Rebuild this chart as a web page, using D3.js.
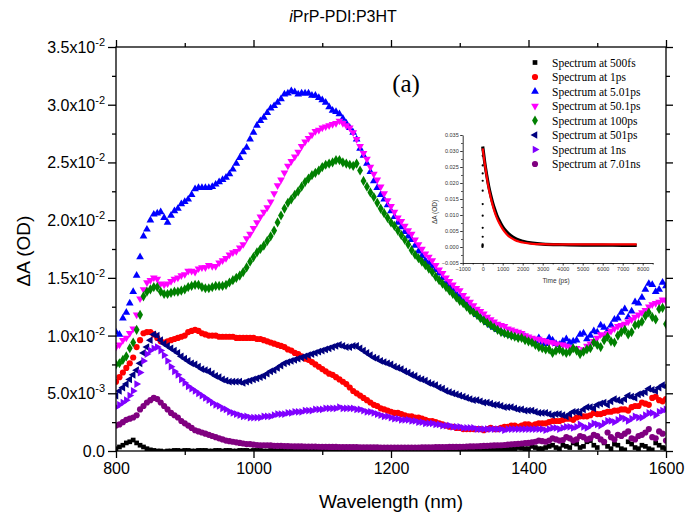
<!DOCTYPE html>
<html>
<head>
<meta charset="utf-8">
<script src="https://cdn.jsdelivr.net/npm/d3@7"></script>
<style>
  body { margin: 0; background: #fff; }
  svg { display: block; font-family: Arial, "Liberation Sans", sans-serif; }
</style>
</head>
<body>
<svg id="chart" width="687" height="524"></svg>
<script>
// wavelength grid (nm); spectra are in units of 1e-3 OD
// values on the 10 nm grid (800..1600) and on the half steps (805..1595)
const wavelengths = d3.range(800, 1601, 10)
const wavelengthsMid = d3.range(805, 1600, 10)

const spec500fs = [0.2, 0.5, 0.8, 0.7, 0.35, 0.1, 0.0, -0.05, 0.0, 0.05,
  0.05, 0.0, 0.05, 0.05, 0.0, 0.05, 0.05, 0.0, 0.05, 0.05,
  0.05, 0.05, 0.0, 0.05, 0.05, 0.0, 0.05, 0.05, 0.05, 0.0,
  0.05, 0.05, 0.05, 0.0, 0.05, 0.05, 0.05, 0.05, 0.0, 0.05,
  0.05, 0.05, 0.05, 0.1, 0.05, 0.05, 0.1, 0.05, 0.1, 0.1,
  0.1, 0.1, 0.15, 0.1, 0.15, 0.2, 0.15, 0.2, 0.2, 0.25,
  0.2, 0.3, 0.2, 0.4, 0.3, 0.5, 0.3, 0.6, 0.4, 0.9,
  0.3, 0.7, 0.2, 0.5, 0.1, 0.6, 0.2, 0.4, 0.1, 0.5,
  0.2]
const spec500fsMid = [0.35, 0.7, 0.95, 0.5, 0.2, 0.05, 0.0, 0.0, 0.05, 0.0,
  0.05, 0.0, 0.05, 0.0, 0.05, 0.0, 0.05, 0.0, 0.05, 0.0,
  0.05, 0.0, 0.05, 0.0, 0.05, 0.0, 0.05, 0.0, 0.05, 0.0,
  0.05, 0.0, 0.05, 0.0, 0.05, 0.0, 0.05, 0.0, 0.05, 0.0,
  0.05, 0.1, 0.05, 0.05, 0.1, 0.1, 0.05, 0.1, 0.1, 0.1,
  0.1, 0.15, 0.1, 0.2, 0.15, 0.2, 0.2, 0.15, 0.3, 0.2,
  0.4, 0.2, 0.3, 0.5, 0.2, 0.4, 0.7, 0.3, 0.8, 0.5,
  1.0, 0.4, 0.6, 0.2, 0.8, 0.3, 0.5, 0.2, 0.7, 0.3]

const spec1ps = [6.0, 6.8, 7.6, 9.0, 10.2, 10.3, 9.8, 9.4, 9.6, 9.8,
  10.0, 10.4, 10.4, 10.1, 10.0, 9.9, 9.9, 9.9, 9.8, 9.8,
  9.8, 9.7, 9.5, 9.3, 9.1, 8.8, 8.5, 8.2, 7.9, 7.5,
  7.1, 6.7, 6.4, 6.0, 5.5, 5.0, 4.6, 4.2, 3.9, 3.6,
  3.4, 3.3, 3.1, 3.0, 2.9, 2.7, 2.6, 2.4, 2.2, 2.1,
  2.0, 1.9, 1.9, 1.9, 1.9, 1.9, 2.0, 2.1, 2.2, 2.2,
  2.3, 2.3, 2.4, 2.5, 2.6, 2.7, 2.8, 2.9, 3.0, 3.1,
  3.2, 3.3, 3.4, 3.5, 3.6, 3.8, 3.9, 4.1, 4.6, 4.4,
  4.5]
const spec1psMid = [6.4, 7.2, 8.1, 9.6, 10.3, 10.1, 9.5, 9.5, 9.7, 9.9,
  10.3, 10.5, 10.2, 10.0, 10.0, 9.9, 9.9, 9.8, 9.8, 9.8,
  9.7, 9.6, 9.4, 9.2, 9.0, 8.7, 8.4, 8.0, 7.7, 7.3,
  6.9, 6.6, 6.2, 5.8, 5.2, 4.8, 4.4, 4.0, 3.7, 3.5,
  3.3, 3.2, 3.0, 2.9, 2.8, 2.6, 2.5, 2.3, 2.1, 2.0,
  1.9, 1.9, 1.9, 1.8, 2.0, 1.9, 2.1, 2.2, 2.1, 2.3,
  2.2, 2.4, 2.4, 2.6, 2.6, 2.8, 2.7, 3.0, 3.0, 3.3,
  3.2, 3.4, 3.5, 3.6, 3.5, 3.9, 4.2, 4.0, 4.7, 4.3]

const spec5ps = [10.3, 11.5, 12.8, 15.2, 18.6, 20.0, 20.6, 20.2, 20.4, 21.0,
  21.6, 22.2, 22.8, 22.8, 22.9, 23.3, 23.7, 24.4, 25.4, 26.3,
  27.6, 28.6, 29.3, 29.9, 30.5, 31.0, 31.1, 31.0, 31.0, 30.8,
  30.4, 29.8, 29.4, 28.8, 28.0, 27.0, 25.6, 24.2, 22.8, 21.8,
  20.8, 19.8, 19.0, 18.3, 17.3, 16.5, 16.0, 15.4, 14.6, 14.0,
  13.3, 12.7, 12.1, 11.6, 11.1, 10.7, 10.4, 10.1, 9.9, 9.8,
  9.7, 9.5, 9.4, 9.8, 9.3, 9.5, 9.4, 9.6, 10.2, 10.0,
  10.3, 10.7, 10.9, 11.5, 12.3, 12.1, 12.8, 14.0, 14.4, 14.0,
  14.3]
const spec5psMid = [10.1, 12.0, 13.8, 16.8, 19.2, 20.5, 20.7, 19.8, 20.8, 21.4,
  21.8, 22.7, 22.8, 22.8, 23.1, 23.5, 24.0, 24.9, 25.9, 27.0,
  28.2, 28.9, 29.7, 30.2, 30.9, 31.2, 30.9, 31.0, 30.8, 30.6,
  30.2, 29.5, 29.2, 28.4, 27.6, 26.2, 24.9, 23.4, 22.2, 21.3,
  20.3, 19.4, 18.6, 17.8, 16.9, 16.3, 15.7, 15.0, 14.3, 13.6,
  13.0, 12.4, 11.8, 11.4, 10.9, 10.5, 10.2, 10.0, 9.8, 9.9,
  9.5, 9.8, 9.3, 9.6, 9.2, 9.7, 9.5, 10.1, 9.7, 10.4,
  10.9, 10.4, 11.4, 12.0, 11.6, 12.9, 13.3, 14.5, 13.8, 14.6]

const spec50ps = [9.0, 9.6, 10.2, 11.8, 14.0, 14.8, 14.9, 14.4, 14.7, 15.0,
  15.3, 15.6, 15.8, 15.9, 16.0, 16.3, 16.7, 17.2, 17.6, 18.4,
  19.3, 20.3, 21.1, 22.3, 23.5, 24.7, 25.5, 26.4, 27.1, 27.7,
  28.0, 28.2, 28.4, 28.4, 28.0, 27.0, 25.8, 24.6, 23.5, 22.3,
  21.2, 20.2, 19.5, 18.8, 17.9, 17.1, 16.5, 15.7, 15.0, 14.4,
  13.9, 13.2, 12.6, 12.1, 11.6, 11.2, 10.9, 10.6, 10.4, 10.2,
  9.9, 9.7, 9.6, 9.4, 9.3, 9.2, 9.0, 8.9, 8.8, 9.3,
  9.8, 10.0, 10.4, 10.8, 11.0, 11.4, 11.8, 12.2, 12.7, 12.9,
  13.0]
const spec50psMid = [9.2, 9.8, 10.6, 13.2, 14.6, 15.0, 14.5, 14.5, 14.9, 15.2,
  15.6, 15.5, 15.9, 16.1, 16.0, 16.5, 17.0, 17.3, 17.9, 18.8,
  19.8, 20.7, 21.6, 23.0, 24.1, 25.1, 25.9, 26.8, 27.4, 27.8,
  28.1, 28.3, 28.6, 28.2, 27.6, 26.4, 25.3, 24.0, 22.9, 21.7,
  20.7, 19.9, 19.1, 18.3, 17.5, 16.8, 16.1, 15.4, 14.7, 14.1,
  13.5, 12.9, 12.3, 11.9, 11.4, 11.0, 10.8, 10.5, 10.3, 10.0,
  9.8, 9.7, 9.5, 9.4, 9.2, 9.1, 8.9, 8.6, 9.1, 9.5,
  10.1, 10.2, 10.6, 10.9, 11.2, 11.6, 12.0, 12.5, 12.8, 13.1]

const spec100ps = [7.5, 7.9, 8.9, 10.5, 13.4, 14.0, 14.2, 13.6, 13.7, 13.8,
  14.0, 14.3, 14.4, 14.1, 14.2, 14.3, 14.4, 14.8, 15.2, 15.9,
  16.8, 17.5, 18.2, 19.1, 20.4, 21.5, 22.2, 22.9, 23.6, 24.1,
  24.6, 24.9, 25.2, 25.0, 24.8, 24.9, 23.4, 22.4, 21.5, 20.6,
  19.8, 19.1, 18.3, 17.4, 16.7, 16.1, 15.5, 14.8, 14.2, 13.6,
  13.0, 12.5, 12.0, 11.5, 11.1, 10.7, 10.3, 10.1, 9.9, 9.8,
  9.5, 9.2, 8.9, 8.8, 8.7, 8.6, 8.6, 8.7, 8.6, 8.9,
  9.2, 9.6, 9.5, 10.0, 10.5, 10.3, 11.0, 11.7, 11.6, 12.3,
  11.0]
const spec100psMid = [7.6, 8.2, 9.4, 11.8, 13.8, 14.2, 13.8, 13.6, 13.8, 13.9,
  14.2, 14.4, 14.2, 14.1, 14.3, 14.3, 14.6, 15.0, 15.5, 16.4,
  17.2, 17.8, 18.6, 19.8, 21.0, 21.8, 22.5, 23.3, 23.9, 24.3,
  24.8, 25.0, 25.2, 24.9, 24.7, 24.3, 22.9, 22.0, 21.0, 20.2,
  19.5, 18.7, 17.9, 17.0, 16.4, 15.8, 15.1, 14.5, 13.9, 13.3,
  12.8, 12.2, 11.8, 11.3, 10.9, 10.5, 10.2, 10.0, 9.8, 9.6,
  9.4, 9.0, 8.8, 8.5, 8.8, 8.5, 8.9, 8.4, 8.8, 9.4,
  9.0, 9.9, 9.4, 10.3, 10.1, 10.9, 11.2, 12.0, 11.4, 12.4]

const spec501ps = [4.8, 5.5, 6.2, 7.0, 8.5, 9.6, 10.0, 9.3, 8.9, 8.5,
  8.0, 7.6, 7.3, 7.0, 6.7, 6.4, 6.1, 6.0, 6.0, 6.0,
  6.2, 6.4, 6.7, 7.0, 7.4, 7.7, 7.9, 8.1, 8.3, 8.5,
  8.7, 8.9, 9.1, 9.1, 9.0, 9.1, 8.7, 8.3, 8.0, 7.7,
  7.5, 7.2, 6.9, 6.6, 6.3, 6.1, 5.8, 5.5, 5.2, 5.0,
  4.8, 4.6, 4.4, 4.3, 4.2, 4.0, 3.9, 3.8, 3.7, 3.6,
  3.5, 3.4, 3.3, 3.2, 3.2, 3.1, 3.2, 3.4, 3.6, 3.8,
  4.0, 4.2, 4.3, 4.4, 4.5, 4.7, 4.9, 5.1, 5.3, 5.5,
  5.6]
const spec501psMid = [5.2, 5.8, 6.6, 7.6, 9.0, 10.1, 9.6, 9.1, 8.7, 8.2,
  7.8, 7.5, 7.1, 6.9, 6.5, 6.2, 6.0, 6.0, 5.9, 6.1,
  6.3, 6.5, 6.9, 7.2, 7.6, 7.8, 8.0, 8.2, 8.4, 8.6,
  8.8, 9.0, 9.2, 9.0, 9.1, 8.9, 8.5, 8.1, 7.8, 7.6,
  7.3, 7.1, 6.8, 6.5, 6.2, 5.9, 5.7, 5.4, 5.1, 4.9,
  4.7, 4.5, 4.4, 4.2, 4.1, 4.0, 3.8, 3.8, 3.6, 3.5,
  3.5, 3.3, 3.3, 3.1, 3.2, 3.0, 3.4, 3.3, 3.8, 3.7,
  4.1, 4.0, 4.5, 4.3, 4.8, 4.6, 5.0, 5.4, 5.2, 5.7]

const spec1ns = [3.8, 4.2, 4.8, 5.8, 7.8, 8.7, 9.0, 8.3, 7.3, 6.6,
  5.9, 5.4, 5.0, 4.6, 4.2, 3.9, 3.6, 3.3, 3.1, 3.0,
  2.9, 2.9, 3.0, 3.1, 3.2, 3.3, 3.4, 3.4, 3.5, 3.6,
  3.6, 3.7, 3.7, 3.7, 3.7, 3.6, 3.5, 3.4, 3.2, 3.0,
  2.9, 2.8, 2.7, 2.6, 2.5, 2.4, 2.4, 2.3, 2.2, 2.1,
  2.1, 2.0, 2.0, 1.9, 1.9, 1.9, 1.9, 1.9, 1.9, 1.9,
  1.9, 1.9, 1.9, 1.9, 2.0, 2.0, 2.1, 2.1, 2.1, 2.2,
  2.3, 2.4, 2.6, 2.7, 2.8, 2.8, 2.9, 3.1, 3.3, 3.4,
  3.6]
const spec1nsMid = [4.0, 4.4, 5.2, 6.8, 8.4, 8.9, 8.7, 7.8, 6.9, 6.2,
  5.6, 5.2, 4.8, 4.4, 4.0, 3.7, 3.4, 3.2, 3.0, 2.9,
  2.9, 3.0, 3.0, 3.2, 3.2, 3.3, 3.4, 3.5, 3.5, 3.6,
  3.7, 3.7, 3.8, 3.7, 3.7, 3.6, 3.4, 3.3, 3.1, 3.0,
  2.8, 2.7, 2.7, 2.6, 2.5, 2.4, 2.3, 2.2, 2.2, 2.1,
  2.0, 2.0, 1.9, 1.9, 1.9, 1.9, 1.8, 1.9, 1.9, 1.9,
  1.9, 1.9, 1.8, 2.0, 1.9, 2.1, 2.0, 2.3, 2.0, 2.4,
  2.2, 2.6, 2.5, 2.9, 2.6, 3.0, 2.9, 3.3, 3.1, 3.5]

const spec7ns = [2.2, 2.5, 2.8, 3.1, 3.9, 4.4, 4.5, 3.9, 3.3, 2.9,
  2.4, 2.0, 1.7, 1.5, 1.3, 1.1, 0.9, 0.8, 0.7, 0.6,
  0.55, 0.5, 0.5, 0.45, 0.45, 0.42, 0.4, 0.4, 0.38, 0.38,
  0.36, 0.35, 0.35, 0.34, 0.33, 0.33, 0.32, 0.32, 0.31, 0.3,
  0.3, 0.3, 0.3, 0.3, 0.3, 0.31, 0.32, 0.33, 0.34, 0.35,
  0.36, 0.38, 0.4, 0.42, 0.45, 0.48, 0.5, 0.55, 0.6, 0.65,
  0.7, 0.8, 0.85, 0.9, 1.0, 0.95, 1.1, 1.0, 1.2, 1.1,
  1.3, 0.8, 1.2, 1.4, 1.5, 1.1, 1.3, 1.6, 1.2, 1.7,
  0.9]
const spec7nsMid = [2.3, 2.7, 2.9, 3.6, 4.2, 4.6, 4.2, 3.6, 3.1, 2.6,
  2.2, 1.8, 1.6, 1.4, 1.2, 1.0, 0.85, 0.75, 0.65, 0.6,
  0.52, 0.5, 0.48, 0.45, 0.43, 0.41, 0.4, 0.39, 0.38, 0.37,
  0.36, 0.35, 0.34, 0.34, 0.33, 0.32, 0.32, 0.31, 0.3, 0.3,
  0.3, 0.3, 0.3, 0.3, 0.31, 0.31, 0.33, 0.33, 0.35, 0.35,
  0.37, 0.4, 0.41, 0.44, 0.47, 0.5, 0.52, 0.58, 0.62, 0.68,
  0.75, 0.9, 0.8, 1.1, 0.9, 1.2, 0.9, 1.3, 1.0, 1.4,
  1.0, 1.6, 1.0, 1.3, 1.7, 1.0, 1.4, 1.9, 1.1, 1.5]

const seriesNames = ['Spectrum at 500fs', 'Spectrum at 1ps', 'Spectrum at 5.01ps', 'Spectrum at 50.1ps',
  'Spectrum at 100ps', 'Spectrum at 501ps', 'Spectrum at 1ns', 'Spectrum at 7.01ns']
const seriesValues = [spec500fs, spec1ps, spec5ps, spec50ps, spec100ps, spec501ps, spec1ns, spec7ns]
const seriesValuesMid = [spec500fsMid, spec1psMid, spec5psMid, spec50psMid, spec100psMid, spec501psMid, spec1nsMid, spec7nsMid]
const seriesColors = ['#000000', '#ff0000', '#0000ff', '#ff00ff', '#008000', '#000080', '#8000ff', '#800080']
const seriesShapes = ['square', 'circle', 'up', 'down', 'diamond', 'left', 'right', 'circle']

// y ticks (1e-3 units) and their labels
const yTicks = [0, 5, 10, 15, 20, 25, 30, 35]
const yMantissa = ['0.0', '5.0', '1.0', '1.5', '2.0', '2.5', '3.0', '3.5']
const yExponent = ['', '-3', '-2', '-2', '-2', '-2', '-2', '-2']
const xTicks = [800, 1000, 1200, 1400, 1600]

// inset: kinetic trace (ps, OD)
const insetRiseTime = [-10, -10, -5, -5, 0, 0, 0, 0, 0, 0, 0, 0, 0, 5]
const insetRiseValue = [0.0, 0.0003, 0.0005, 0.0008, 0.0032, 0.006, 0.0098, 0.0134, 0.0176, 0.0207, 0.023, 0.0255, 0.0285, 0.0303]
const insetTime = [0, 50, 100, 200, 300, 400, 500, 600, 700, 800, 1000, 1200, 1400, 1600, 1800, 2000, 2500, 3000, 4000, 5000, 6000, 7000, 7700]
const insetData = [0.0314, 0.0290, 0.0265, 0.0225, 0.0190, 0.0162, 0.0138, 0.0118, 0.0100, 0.0086, 0.0063, 0.0047, 0.0036, 0.0028, 0.0022, 0.0018, 0.0012, 0.0009, 0.0007, 0.0006, 0.0006, 0.0005, 0.0005]
const insetFit = [0.0308, 0.0284, 0.0262, 0.0220, 0.0184, 0.0155, 0.0130, 0.0109, 0.0092, 0.0078, 0.0056, 0.0040, 0.0029, 0.0022, 0.0017, 0.0014, 0.0010, 0.0009, 0.0008, 0.0008, 0.0008, 0.0008, 0.0008]

const svg = d3.select('#chart')
const plot = {left: 116, right: 666, top: 47, bottom: 451}

const x = d3.scaleLinear().domain([800, 1600]).range([plot.left, plot.right])
const y = d3.scaleLinear().domain([0, 35]).range([plot.bottom, plot.top])

function symbolPath(shape, size) {
  let type = d3.symbolTriangle
  if (shape == 'square') type = d3.symbolSquare
  if (shape == 'circle') type = d3.symbolCircle
  if (shape == 'diamond') type = d3.symbolDiamond
  return d3.symbol().type(type).size(size)()
}
function symbolRotate(shape) {
  if (shape == 'down') return 180
  if (shape == 'left') return -90
  if (shape == 'right') return 90
  return 0
}
const symbolSize = {square: 22, circle: 30, up: 26, down: 26, diamond: 30, left: 26, right: 26}

// title
const title = svg.append('text')
  .attr('x', 343).attr('y', 22)
  .attr('text-anchor', 'middle')
  .attr('font-size', 16)
title.append('tspan').attr('font-style', 'italic').text('i')
title.append('tspan').text('PrP-PDI:P3HT')

// clip for the data
svg.append('clipPath').attr('id', 'plotClip')
  .append('rect')
  .attr('x', plot.left).attr('y', plot.top)
  .attr('width', plot.right - plot.left).attr('height', plot.bottom - plot.top)

const dataG = svg.append('g').attr('clip-path', 'url(#plotClip)')
seriesValues.forEach((vals, i) => {
  const pts = wavelengths.map((w, j) => ({w: w, v: vals[j]}))
    .concat(wavelengthsMid.map((w, j) => ({w: w, v: seriesValuesMid[i][j]})))
    .sort((a, b) => a.w - b.w)
  dataG.append('g')
    .selectAll('path')
    .data(pts)
    .join('path')
    .attr('d', symbolPath(seriesShapes[i], symbolSize[seriesShapes[i]]))
    .attr('transform', d => `translate(${x(d.w)},${y(d.v)}) rotate(${symbolRotate(seriesShapes[i])})`)
    .attr('fill', seriesColors[i])
})

// frame
svg.append('rect')
  .attr('x', plot.left).attr('y', plot.top)
  .attr('width', plot.right - plot.left).attr('height', plot.bottom - plot.top)
  .attr('fill', 'none').attr('stroke', '#000').attr('stroke-width', 1.3)

function tickAxis(axis, transform) {
  const g = svg.append('g').attr('transform', transform).call(axis)
  g.select('.domain').remove()
  g.selectAll('line').attr('stroke-width', 1.3)
  return g
}
const xMinor = [900, 1100, 1300, 1500]
const yMinor = [2.5, 7.5, 12.5, 17.5, 22.5, 27.5, 32.5]

// bottom axis with labels
const xAxisG = tickAxis(d3.axisBottom(x).tickValues(xTicks).tickSize(7).tickPadding(5).tickFormat(d3.format('d')), `translate(0,${plot.bottom})`)
xAxisG.selectAll('text').attr('font-size', 16).attr('font-family', 'Arial, "Liberation Sans", sans-serif')
tickAxis(d3.axisBottom(x).tickValues(xMinor).tickSize(4).tickFormat(''), `translate(0,${plot.bottom})`)
// top + right ticks
tickAxis(d3.axisTop(x).tickValues(xTicks).tickSize(7).tickFormat(''), `translate(0,${plot.top})`)
tickAxis(d3.axisTop(x).tickValues(xMinor).tickSize(4).tickFormat(''), `translate(0,${plot.top})`)
tickAxis(d3.axisRight(y).tickValues(yTicks).tickSize(7).tickFormat(''), `translate(${plot.right},0)`)
tickAxis(d3.axisRight(y).tickValues(yMinor).tickSize(4).tickFormat(''), `translate(${plot.right},0)`)
// left
tickAxis(d3.axisLeft(y).tickValues(yTicks).tickSize(8).tickFormat(''), `translate(${plot.left},0)`)
tickAxis(d3.axisLeft(y).tickValues(yMinor).tickSize(4).tickFormat(''), `translate(${plot.left},0)`)

// y tick labels with exponents
yTicks.forEach((t, i) => {
  const lab = svg.append('text')
    .attr('x', 105).attr('y', y(t) + 6)
    .attr('text-anchor', 'end')
    .attr('font-size', 16)
  lab.append('tspan').text(yMantissa[i] + (yExponent[i] ? 'x10' : ''))
  if (yExponent[i]) {
    lab.append('tspan').attr('dy', -7).attr('font-size', 11).text(yExponent[i])
  }
})

// axis titles
svg.append('text')
  .attr('transform', 'translate(30,251) rotate(-90)')
  .attr('text-anchor', 'middle')
  .attr('font-size', 19)
  .text('ΔA (OD)')
svg.append('text')
  .attr('x', 391).attr('y', 508)
  .attr('text-anchor', 'middle')
  .attr('font-size', 19)
  .text('Wavelength (nm)')

// panel label
svg.append('text')
  .attr('x', 406).attr('y', 92)
  .attr('text-anchor', 'middle')
  .attr('font-size', 25)
  .attr('font-family', '"Times New Roman", "Liberation Serif", serif')
  .text('(a)')

// legend
const legend = svg.append('g')
seriesNames.forEach((name, i) => {
  const ly = 62.5 + i * 14.5
  legend.append('path')
    .attr('d', symbolPath(seriesShapes[i], symbolSize[seriesShapes[i]]))
    .attr('transform', `translate(535,${ly}) rotate(${symbolRotate(seriesShapes[i])})`)
    .attr('fill', seriesColors[i])
  legend.append('text')
    .attr('x', 552).attr('y', ly + 4)
    .attr('font-size', 11.5)
    .attr('font-family', '"Times New Roman", "Liberation Serif", serif')
    .text(name)
})

// inset
const xi = d3.scaleLinear().domain([-1000, 8500]).range([462.7, 652.7])
const yi = d3.scaleLinear().domain([-0.005, 0.035]).range([263, 135])
const inset = svg.append('g')

inset.append('g').attr('transform', 'translate(0,263)')
  .call(d3.axisBottom(xi).tickValues(d3.range(-1000, 8001, 1000)).tickSize(2.5).tickPadding(1.5).tickSizeOuter(0).tickFormat(d3.format('d')))
inset.append('g').attr('transform', 'translate(0,263)')
  .call(d3.axisBottom(xi).tickValues(d3.range(-500, 8501, 1000)).tickSize(1.5).tickSizeOuter(0).tickFormat(''))
  .select('.domain').remove()
inset.append('g').attr('transform', 'translate(462.7,0)')
  .call(d3.axisLeft(yi).tickValues(d3.range(-0.005, 0.0351, 0.005)).tickSize(2.5).tickPadding(1.5).tickSizeOuter(0).tickFormat(d3.format('.3f')))
inset.append('g').attr('transform', 'translate(462.7,0)')
  .call(d3.axisLeft(yi).tickValues(d3.range(-0.0025, 0.035, 0.005)).tickSize(1.5).tickSizeOuter(0).tickFormat(''))
  .select('.domain').remove()
inset.selectAll('text').attr('font-size', 5.5).attr('fill', '#333').attr('font-family', 'Arial, "Liberation Sans", sans-serif')
inset.selectAll('line, path').attr('stroke-width', 0.8)

inset.append('text')
  .attr('transform', 'translate(437,212) rotate(-90)')
  .attr('text-anchor', 'middle')
  .attr('font-size', 6.5).attr('fill', '#333')
  .text('ΔA (OD)')
inset.append('text')
  .attr('x', 556).attr('y', 283)
  .attr('text-anchor', 'middle')
  .attr('font-size', 6.5).attr('fill', '#333')
  .text('Time (ps)')

const kinLine = d3.line().x(d => xi(d[0])).y(d => yi(d[1])).curve(d3.curveMonotoneX)
inset.append('path')
  .datum(insetTime.map((t, i) => [t, insetData[i]]))
  .attr('d', kinLine)
  .attr('fill', 'none').attr('stroke', '#000').attr('stroke-width', 3.2)
inset.selectAll('.rise')
  .data(insetRiseTime.map((t, i) => [t, insetRiseValue[i]]))
  .join('circle')
  .attr('class', 'rise')
  .attr('cx', d => xi(d[0])).attr('cy', d => yi(d[1]))
  .attr('r', 1.1).attr('fill', '#000')
inset.append('path')
  .datum(insetTime.map((t, i) => [t, insetFit[i]]))
  .attr('d', kinLine)
  .attr('fill', 'none').attr('stroke', '#ff0000').attr('stroke-width', 2.2)
</script>
</body>
</html>
